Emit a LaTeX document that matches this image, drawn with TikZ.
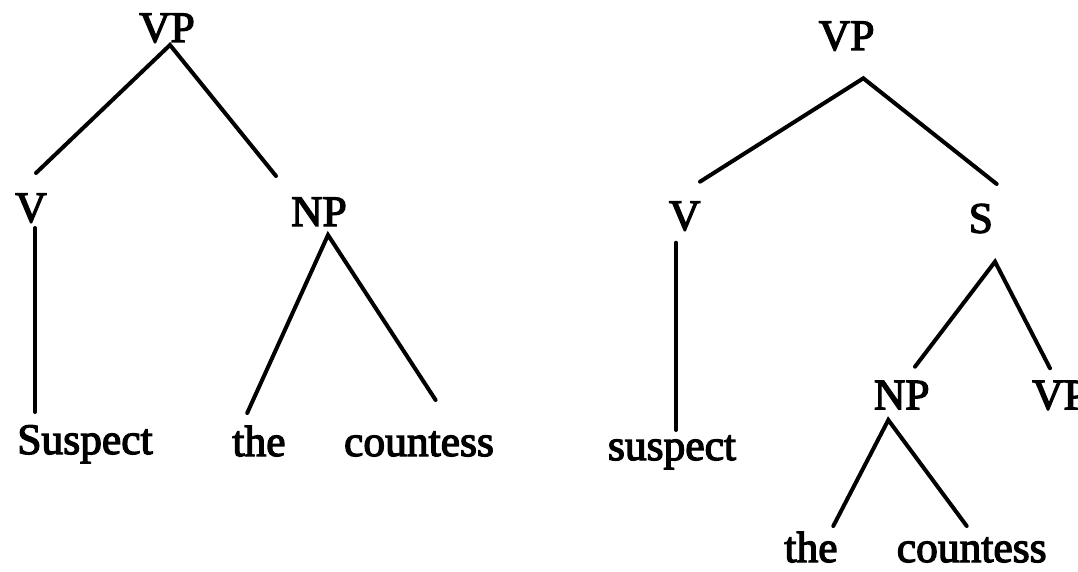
\documentclass[tikz,border=0pt]{standalone}
\usepackage{fontspec}
\setmainfont{Liberation Serif}
\newfontfamily\treefont{Liberation Serif}[FakeBold=3]
\begin{document}
\begin{tikzpicture}[x=1pt,y=-1pt,
  lbl/.style={anchor=base,inner sep=0pt,font=\treefont\fontsize{43.5}{43.5}\selectfont},
  branch/.style={line width=4pt,line cap=round}]
\useasboundingbox[fill=white] (0,0) rectangle (1078,572);
% ---- left tree ----
\node[lbl] (lvp) at (167,42) {VP};
\node[lbl] (lv) at (31,222) {V};
\node[lbl] (lnp) at (319,226) {NP};
\node[lbl] (lsus) at (85,454) {Suspect};
\node[lbl] (lthe) at (259,456) {the};
\node[lbl] (lcou) at (419,456) {countess};
\coordinate (lvpA) at (170,45);
\coordinate (lvE) at (36,173);
\coordinate (lnpE) at (276,176);
\coordinate (lvT) at (35,228);
\coordinate (lsusE) at (35,412);
\coordinate (lnpA) at (328,235);
\coordinate (ltheE) at (247.2,413);
\coordinate (lcouE) at (435.6,400);
\draw[branch] (lvE) -- (lvpA) -- (lnpE);
\draw[branch] (lvT) -- (lsusE);
\draw[branch] (ltheE) -- (lnpA) -- (lcouE);
% ---- right tree ----
\node[lbl] (rvp) at (846.7,50) {VP};
\node[lbl] (rv) at (684.7,230) {V};
\node[lbl] (rs) at (980.8,232.7) {S};
\node[lbl] (rnp) at (901.7,409.3) {NP};
\node[lbl] (rvp2) at (1060,409.3) {VP};
\node[lbl] (rsus) at (672,460) {suspect};
\node[lbl] (rthe) at (811,562) {the};
\node[lbl] (rcou) at (971.7,562) {countess};
\coordinate (rvpA) at (863.3,78.3);
\coordinate (rvE) at (700,181.7);
\coordinate (rsE) at (996.7,184);
\coordinate (rvT) at (676,242.7);
\coordinate (rsusE) at (676,430);
\coordinate (rsA) at (995,261.7);
\coordinate (rnpE) at (915,366.7);
\coordinate (rvp2E) at (1050,368.3);
\coordinate (rnpA) at (888.3,420);
\coordinate (rtheE) at (833.3,526);
\coordinate (rcouE) at (966.7,526);
\draw[branch] (rvE) -- (rvpA) -- (rsE);
\draw[branch] (rvT) -- (rsusE);
\draw[branch] (rnpE) -- (rsA) -- (rvp2E);
\draw[branch] (rtheE) -- (rnpA) -- (rcouE);
\end{tikzpicture}
\end{document}
